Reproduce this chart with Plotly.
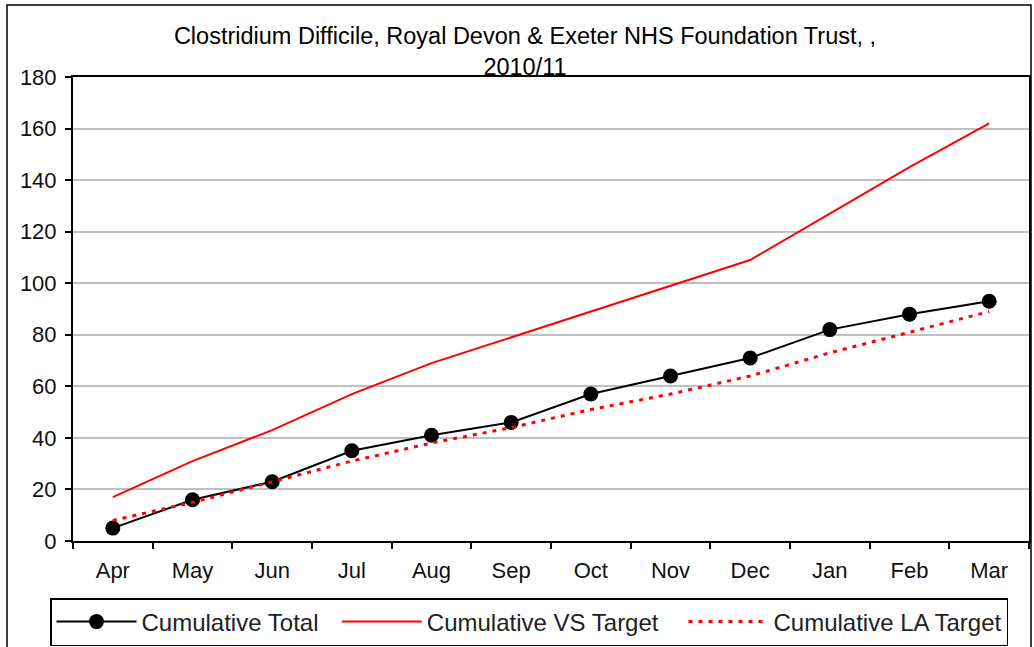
import plotly.graph_objects as go

months = ["Apr", "May", "Jun", "Jul", "Aug", "Sep", "Oct", "Nov", "Dec", "Jan", "Feb", "Mar"]
cumulative_total = [5, 16, 23, 35, 41, 46, 57, 64, 71, 82, 88, 93]
cumulative_vs_target = [17, 31, 43, 57, 69, 79, 89, 99, 109, 127, 145, 162]
cumulative_la_target = [8, 15, 23, 31, 38, 44, 51, 57, 64, 73, 81, 89]
y_ticks = [0, 20, 40, 60, 80, 100, 120, 140, 160, 180]

FONT = "Liberation Sans, Arial, sans-serif"
W, H = 1034, 647
L, R, T, B = 73, 5, 77, 106
pw, ph = W - L - R, H - T - B

fig = go.Figure()
fig.add_trace(go.Scatter(
    x=months, y=cumulative_total, name="Cumulative Total\u00a0\u00a0",
    mode="lines+markers",
    line=dict(color="black", width=2),
    marker=dict(color="black", size=15, symbol="circle"),
))
fig.add_trace(go.Scatter(
    x=months, y=cumulative_vs_target, name="Cumulative VS Target\u00a0\u00a0\u00a0",
    mode="lines",
    line=dict(color="#ff0000", width=2),
))
fig.add_trace(go.Scatter(
    x=months, y=cumulative_la_target, name="Cumulative LA Target",
    mode="lines",
    line=dict(color="#ff0000", width=3, dash="4px,6px"),
))

def px_x(p):
    return (p - L) / pw

def px_y(p):
    return (H - B - p) / ph

fig.add_shape(type="rect", xref="paper", yref="paper",
              x0=px_x(7), x1=px_x(1031), y0=px_y(700), y1=px_y(5),
              line=dict(color="black", width=1.5), fillcolor="rgba(0,0,0,0)", layer="below")

fig.update_layout(
    width=W, height=H,
    margin=dict(l=L, r=R, t=T, b=B, pad=0, autoexpand=False),
    paper_bgcolor="white", plot_bgcolor="white",
    font=dict(family=FONT, size=22, color="black"),
    title=dict(
        text="Clostridium Difficile, Royal Devon & Exeter NHS Foundation Trust, ,<br>2010/11",
        x=525 / W, xanchor="center", xref="container",
        y=1 - 44 / H, yanchor="top", yref="container",
        font=dict(family=FONT, size=23.5, color="black"),
    ),
    xaxis=dict(
        type="category", range=[-0.5, 11.5], automargin=False,
        showline=True, linecolor="black", linewidth=2, mirror=True,
        ticks="outside", tickson="boundaries", ticklen=6, tickcolor="black", tickwidth=2,
        ticklabelstandoff=9,
        showgrid=False, tickfont=dict(size=22, color="#111"),
    ),
    yaxis=dict(
        range=[0, 180], tickvals=y_ticks, automargin=False,
        showline=True, linecolor="black", linewidth=2, mirror=True,
        ticks="outside", ticklen=6, tickcolor="black", tickwidth=2,
        ticklabelstandoff=4,
        showgrid=True, gridcolor="#c0c0c0", gridwidth=1.5,
        zeroline=False, tickfont=dict(size=22, color="#111"),
    ),
    legend=dict(
        orientation="h", xref="container", yref="container",
        x=50 / W, xanchor="left", y=1 - 598 / H, yanchor="top",
        bordercolor="black", borderwidth=1.5, bgcolor="white",
        font=dict(family=FONT, size=24, color="#222"),
        itemwidth=80, tracegroupgap=0,
    ),
    showlegend=True,
)

fig.write_html("out.html", config={"displayModeBar": False},
               post_script="document.body.style.margin='0px';")
